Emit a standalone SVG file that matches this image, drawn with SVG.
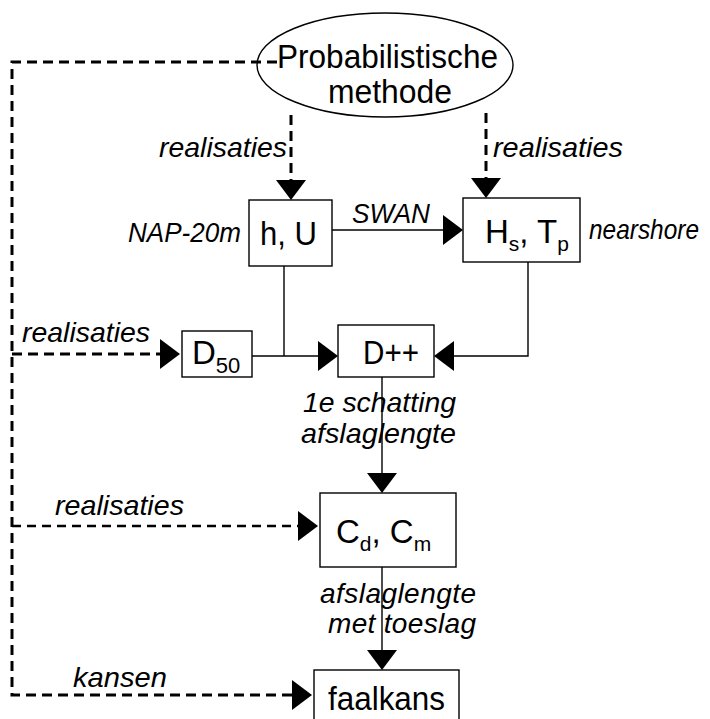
<svg xmlns="http://www.w3.org/2000/svg" width="710" height="719" viewBox="0 0 710 719">
<style>
.box{fill:#fff;stroke:#000;stroke-width:1.4}
.sol{fill:none;stroke:#000;stroke-width:1.4}
.dash{fill:none;stroke:#000;stroke-width:3;stroke-dasharray:10 6}
.dash2{fill:none;stroke:#000;stroke-width:2.5;stroke-dasharray:9 6}
.lbl{font-family:"Liberation Sans",Arial,sans-serif;font-style:italic;font-size:28px;fill:#000}
.nd{font-family:"Liberation Sans",Arial,sans-serif;font-size:33px;fill:#000}
</style>
<defs>
<marker id="ah" markerUnits="userSpaceOnUse" markerWidth="20" markerHeight="30" refX="0" refY="15" orient="auto" viewBox="0 0 20 30">
<path d="M0,0 L20,15 L0,30 Z" fill="#000"/>
</marker>
</defs>
<g id="connectors">
<path class="dash" d="M277,62 L12,62 L12,695 L292,695" marker-end="url(#ah)"/>
<path class="dash" d="M12,354 L160,354" marker-end="url(#ah)"/>
<path class="dash2" d="M12,526 L298,526" marker-end="url(#ah)"/>
<path class="dash" d="M291,115 L291,180" marker-end="url(#ah)"/>
<path class="dash" d="M486,113 L486,178" marker-end="url(#ah)"/>
<path class="sol" d="M332,230 L443,230" marker-end="url(#ah)"/>
<path class="sol" d="M284,266 L284,356"/>
<path class="sol" d="M252,356 L318,356" marker-end="url(#ah)"/>
<path class="sol" d="M528,262 L528,356 L454,356" marker-end="url(#ah)"/>
<path class="sol" d="M382,377 L382,473" marker-end="url(#ah)"/>
<path class="sol" d="M382,567 L382,650" marker-end="url(#ah)"/>
<text class="lbl" x="159" y="157" textLength="128" lengthAdjust="spacingAndGlyphs">realisaties</text>
<text class="lbl" x="493" y="157" textLength="130" lengthAdjust="spacingAndGlyphs">realisaties</text>
<text class="lbl" x="352" y="223" textLength="78" lengthAdjust="spacingAndGlyphs" font-size="27">SWAN</text>
<text class="lbl" x="22" y="342" textLength="128" lengthAdjust="spacingAndGlyphs">realisaties</text>
<text class="lbl" x="303" y="412" textLength="153" lengthAdjust="spacingAndGlyphs">1e schatting</text>
<text class="lbl" x="301" y="443" textLength="155" lengthAdjust="spacingAndGlyphs">afslaglengte</text>
<text class="lbl" x="55" y="515" textLength="129" lengthAdjust="spacingAndGlyphs">realisaties</text>
<text class="lbl" x="320" y="603" textLength="156" lengthAdjust="spacing">afslaglengte</text>
<text class="lbl" x="328" y="633" textLength="148" lengthAdjust="spacing">met toeslag</text>
<text class="lbl" x="73" y="687" textLength="94" lengthAdjust="spacingAndGlyphs">kansen</text>
</g>
<g id="prob">
<ellipse cx="385" cy="65" rx="128" ry="52" fill="none" stroke="#000" stroke-width="1.4"/>
<text class="nd" x="277" y="68" textLength="221" lengthAdjust="spacingAndGlyphs">Probabilistische</text>
<text class="nd" x="328" y="103" textLength="124" lengthAdjust="spacingAndGlyphs">methode</text>
</g>
<g id="hU">
<rect class="box" x="249" y="200" width="83" height="66"/>
<text class="nd" x="260" y="245" textLength="57" lengthAdjust="spacingAndGlyphs">h, U</text>
<text class="lbl" x="128" y="242" textLength="113" lengthAdjust="spacingAndGlyphs" font-size="27">NAP-20m</text>
</g>
<g id="HsTp">
<rect class="box" x="463" y="198" width="117" height="64"/>
<text class="nd" x="485" y="243">H<tspan font-size="21" dy="8">s</tspan><tspan dy="-8">, T</tspan><tspan font-size="21" dy="8">p</tspan></text>
<text class="lbl" x="589" y="239" textLength="110" lengthAdjust="spacingAndGlyphs" font-size="26">nearshore</text>
</g>
<g id="D50">
<rect class="box" x="182" y="331" width="70" height="46"/>
<text class="nd" x="192" y="364">D<tspan font-size="22" dy="9">50</tspan></text>
</g>
<g id="Dpp">
<rect class="box" x="338" y="325" width="96" height="52"/>
<text class="nd" x="363" y="364" textLength="56" lengthAdjust="spacingAndGlyphs">D++</text>
</g>
<g id="CdCm">
<rect class="box" x="320" y="493" width="136" height="74"/>
<text class="nd" x="336" y="543">C<tspan font-size="21" dy="8">d</tspan><tspan dy="-8">, C</tspan><tspan font-size="21" dy="8">m</tspan></text>
</g>
<g id="faalkans">
<rect class="box" x="314" y="670" width="145" height="60"/>
<text class="nd" x="328" y="710" textLength="117" lengthAdjust="spacingAndGlyphs">faalkans</text>
</g>
</svg>
